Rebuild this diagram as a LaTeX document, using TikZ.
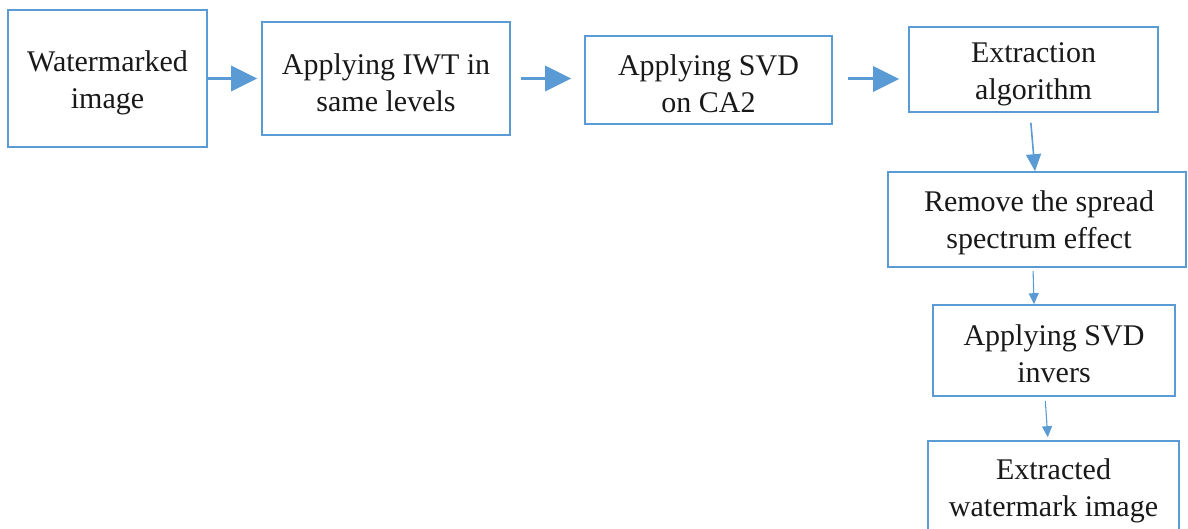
\documentclass[tikz,border=0pt]{standalone}
\usepackage{fontspec}
\setmainfont{Liberation Serif}
\usetikzlibrary{arrows.meta}
\definecolor{bl}{RGB}{91,155,213}
\definecolor{txt}{RGB}{25,25,25}
\begin{document}
\begin{tikzpicture}[x=1pt,y=-1pt,
  box/.style={draw=bl, line width=1.6pt, inner sep=0pt},
  lbl/.style={align=center, inner sep=0pt, text=txt, font=\fontsize{30}{37}\selectfont},
  bigarrow/.style={draw=bl, line width=3pt, -{Triangle[length=26pt,width=25pt]}},
  midarrow/.style={draw=bl, line width=1.6pt, -{Triangle[length=17pt,width=15pt]}},
  smallarrow/.style={draw=bl, line width=1.1pt, -{Triangle[length=11pt,width=10pt]}}]
\useasboundingbox (0,0) rectangle (1188,529);
\clip (0,0) rectangle (1188,529);
\node[box, minimum width=199pt, minimum height=137pt] (n1) at (107.5,78.5) {};
\node[box, minimum width=248pt, minimum height=113pt] (n2) at (386,78.5) {};
\node[box, minimum width=247pt, minimum height=88pt] (n3) at (708.5,80) {};
\node[box, minimum width=249pt, minimum height=85pt] (n4) at (1033.5,69.5) {};
\node[box, minimum width=298pt, minimum height=95pt] (n5) at (1037,219.5) {};
\node[box, minimum width=242pt, minimum height=91pt] (n6) at (1054,350.5) {};
\node[box, minimum width=251pt, minimum height=92pt] (n7) at (1053.5,487) {};
\node[lbl] (t1) at ([yshift=-4pt]n1.center) {Watermarked\\image};
\node[lbl] (t2) at ([yshift=-4pt]n2.center) {Applying IWT in\\same levels};
\node[lbl] (t3) at ([yshift=-4pt]n3.center) {Applying SVD\\on CA2};
\node[lbl] (t4) at ([yshift=-4.5pt]n4.center) {Extraction\\algorithm};
\node[lbl] (t5) at ([xshift=2pt,yshift=-3.5pt]n5.center) {Remove the spread\\spectrum effect};
\node[lbl] (t6) at ([yshift=-3.5pt]n6.center) {Applying SVD\\invers};
\node[lbl] (t7) at ([yshift=-3.5pt]n7.center) {Extracted\\watermark image};
\draw[bigarrow, shorten >=4pt] (n1.east) -- (n1.east -| n2.west);
\draw[bigarrow, shorten <=10pt, shorten >=13pt] (n2.east) -- (n2.east -| n3.west);
\draw[bigarrow, shorten <=15pt, shorten >=9pt] ([yshift=1pt]n3.east) -- ([yshift=1pt]n3.east -| n4.west);
\draw[midarrow, shorten <=10pt] ([xshift=-3.5pt]n4.south) -- ([xshift=-2pt]n5.north);
\draw[smallarrow, shorten <=3pt] ([xshift=-4pt]n5.south) -- ([xshift=-20pt]n6.north);
\draw[smallarrow, shorten <=4pt, shorten >=3pt] ([xshift=-9pt]n6.south) -- ([xshift=-5.5pt]n7.north);
\end{tikzpicture}
\end{document}
